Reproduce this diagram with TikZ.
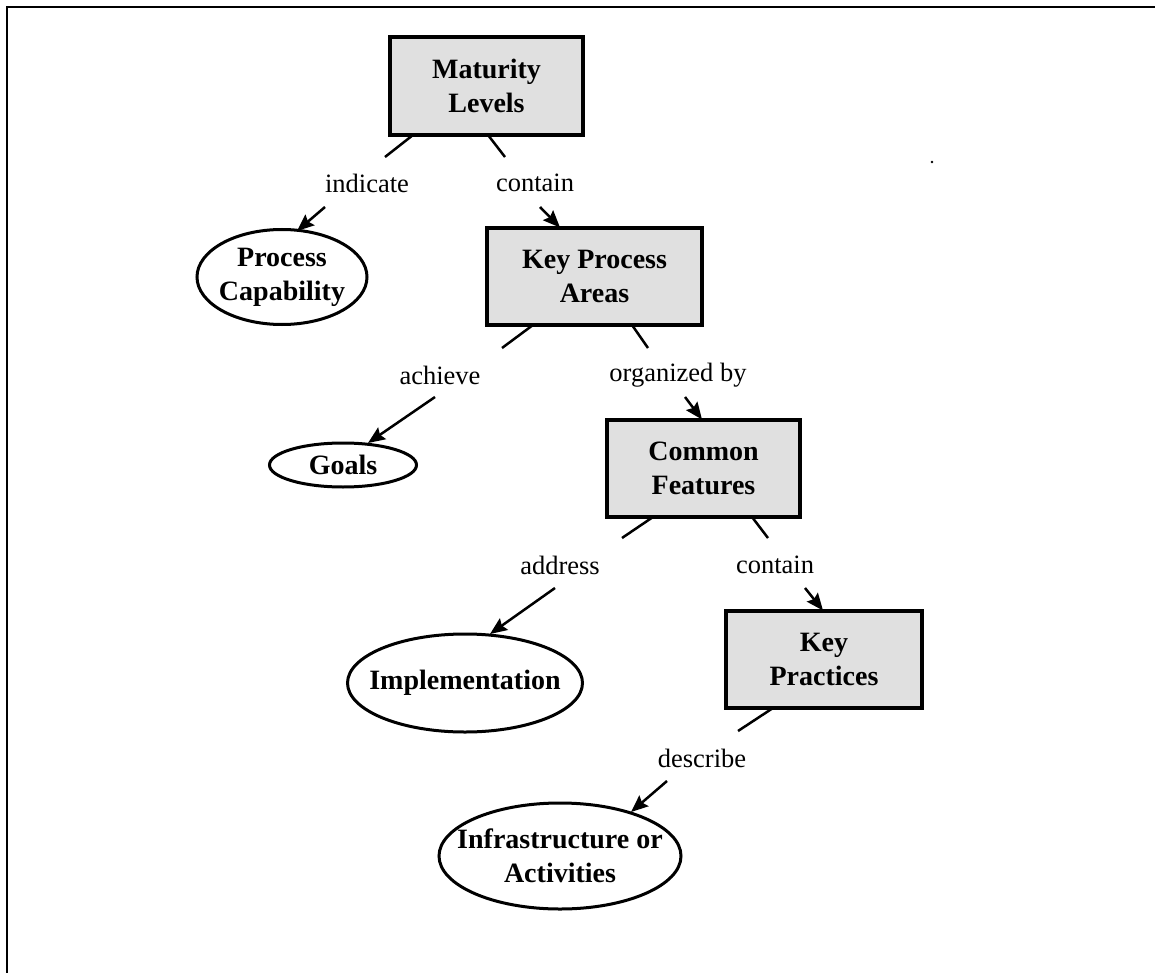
\documentclass[tikz,border=0pt]{standalone}
\usepackage{fontspec}
\setmainfont{Liberation Serif}
\usetikzlibrary{arrows.meta,shapes.geometric}
\begin{document}
\begin{tikzpicture}[x=1pt,y=-1pt,
  box/.style={draw,line width=3.2pt,fill=black!12,rectangle,inner sep=0pt,align=center,
    minimum height=97,font=\fontsize{28}{34}\selectfont\bfseries},
  oval/.style={draw,line width=3pt,ellipse,inner sep=0pt,align=center,
    font=\fontsize{28}{34}\selectfont\bfseries},
  lbl/.style={inner sep=0pt,font=\fontsize{26.5}{32}\selectfont},
  link/.style={line width=2.5pt},
  arr/.style={line width=2.5pt,-{Stealth[length=17pt,width=14pt,inset=2.5pt]}}
]
\useasboundingbox (0,0) rectangle (1155,973);
\draw[line width=2.8pt] (7,973) -- (7,7) -- (1155,7);
\fill (932,162) circle (1.3);

% boxes
\node[box,minimum width=193,minimum height=98] (ml) at (486.5,86) {Maturity\\Levels};
\node[box,minimum width=215] (kpa) at (594.5,276.5) {Key Process\\Areas};
\node[box,minimum width=193] (cf) at (703.5,468.5) {Common\\Features};
\node[box,minimum width=196] (kp) at (824,659.5) {Key\\Practices};

% ellipses
\node[oval,minimum width=170,minimum height=95] (pc) at (282,277)
  {\makebox[0pt]{Process}\\\makebox[0pt]{Capability}};
\node[oval,minimum width=147,minimum height=44] (goals) at (343,465)
  {\makebox[0pt]{Goals}};
\node[oval,minimum width=235,minimum height=98] (impl) at (465,683)
  {\makebox[0pt]{Implementation}};
\node[oval,minimum width=242,minimum height=106] (infra) at (560,856)
  {\makebox[0pt]{Infrastructure or}\\\makebox[0pt]{Activities}};

% labels
\node[lbl] (indicate) at (367,183) {indicate};
\node[lbl] (containA) at (535,183) {contain};
\node[lbl] (achieve) at (440,375) {achieve};
\node[lbl] (organized) at (678,375) {organized by};
\node[lbl] (address) at (560,565) {address};
\node[lbl] (containB) at (775,565) {contain};
\node[lbl] (describe) at (702,758) {describe};

% connectors
\draw[link] ([shift={(-73.5,49)}]ml.center) -- ([shift={(18,-26)}]indicate.center);
\draw[arr] ([shift={(-42,24)}]indicate.center) -- ([shift={(15,-46)}]pc.center);
\draw[link] ([shift={(1.5,49)}]ml.center) -- ([shift={(-30,-26)}]containA.center);
\draw[arr] ([shift={(5,24)}]containA.center) -- ([shift={(-34.5,-49)}]kpa.center);

\draw[link] ([shift={(-61.5,48.5)}]kpa.center) -- ([shift={(62,-27)}]achieve.center);
\draw[arr] ([shift={(-5,22)}]achieve.center) -- ([shift={(25,-22)}]goals.center);
\draw[link] ([shift={(37.5,48.5)}]kpa.center) -- ([shift={(-30,-27)}]organized.center);
\draw[arr] ([shift={(7,22)}]organized.center) -- ([shift={(-1.5,-49)}]cf.center);

\draw[link] ([shift={(-50.5,48.5)}]cf.center) -- ([shift={(62,-27)}]address.center);
\draw[arr] ([shift={(-5,23)}]address.center) -- ([shift={(25,-49)}]impl.center);
\draw[link] ([shift={(48.5,48.5)}]cf.center) -- ([shift={(-7,-27)}]containB.center);
\draw[arr] ([shift={(30,23)}]containB.center) -- ([shift={(-1,-49)}]kp.center);

\draw[link] ([shift={(-51,48.5)}]kp.center) -- ([shift={(36,-27)}]describe.center);
\draw[arr] ([shift={(-35,23)}]describe.center) -- ([shift={(71,-44)}]infra.center);
\end{tikzpicture}
\end{document}
